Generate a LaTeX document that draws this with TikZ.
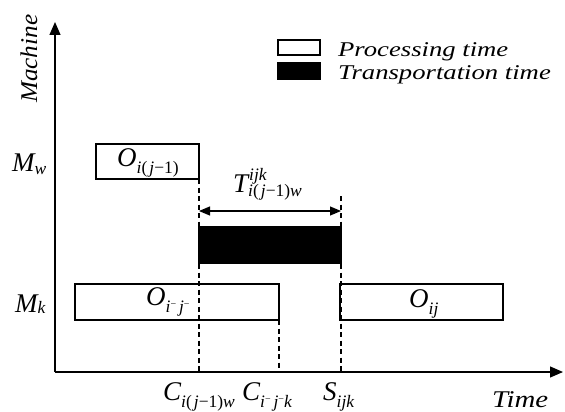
\documentclass[tikz,border=0pt]{standalone}
\usepackage{fontspec}
\setmainfont{Liberation Serif}
\usetikzlibrary{arrows.meta}
\newcommand\hsc[2]{\scalebox{#1}[1]{#2}}
\newcommand\sbx[2]{\raisebox{-#1}{\fontsize{17.5}{20}\selectfont #2}}
\newcommand\spx[2]{\raisebox{#1}{\fontsize{17.5}{20}\selectfont #2}}
\newcommand\mns{\raisebox{5pt}{\fontsize{10}{10}\selectfont\upshape −}}
\newcommand\jmo{\textup{(}\kern2pt j\textup{−1)}}
\begin{document}
\begin{tikzpicture}[x=1pt,y=-1pt,
  box/.style={draw,line width=1.2pt,inner sep=0pt,outer sep=0pt,anchor=north west},
  pbox/.style={box,fill=white},
  tbox/.style={box,fill=black},
  axis/.style={line width=1.2pt,-{Triangle[length=13pt,width=11pt]}},
  dline/.style={line width=1.2pt,dash pattern=on 5pt off 3.5pt},
  dim/.style={line width=1.2pt,{Triangle[length=11pt,width=9pt]}-{Triangle[length=11pt,width=9pt]}},
  mlab/.style={inner sep=0pt,anchor=base west,font=\fontsize{27}{30}\selectfont\itshape},
  tlab/.style={inner sep=0pt,anchor=base west,font=\fontsize{21}{25}\selectfont\itshape},
  alab/.style={inner sep=0pt,anchor=base west,font=\fontsize{24}{28}\selectfont\itshape}]
\useasboundingbox (0,0) rectangle (565,412);
% axes
\coordinate (org) at (55,372);
\coordinate (ytip) at (55,22);
\coordinate (xtip) at (563,372);
\draw[axis] (org) -- (ytip);
\draw[axis] (org) -- (xtip);
\node[alab,rotate=90] (machine) at (37,103) {\hsc{1.05}{Machine}};
\node[alab] (time) at (492,407) {\hsc{1.2}{Time}};
% legend
\node[pbox,minimum width=42pt,minimum height=15pt] (legp) at (278,40) {};
\node[tbox,minimum width=42pt,minimum height=16pt] (legt) at (278,63) {};
\node[tlab] (legptxt) at (338,57) {\hsc{1.27}{Processing time}};
\node[tlab] (legttxt) at (338,80) {\hsc{1.27}{Transportation time}};
% boxes
\node[pbox,minimum width=103pt,minimum height=35pt] (owj) at (96,144) {};
\node[pbox,minimum width=204pt,minimum height=36pt] (oijb) at (75,284) {};
\node[tbox,minimum width=142pt,minimum height=36pt] (tr) at (199,227) {};
\node[pbox,minimum width=163pt,minimum height=36pt] (oij) at (340,284) {};
% dashed guides
\coordinate (stop) at (341,196);
\draw[dline] (owj.south east) -- (owj.south east |- org);
\draw[dline] (oijb.south east) -- (oijb.south east |- org);
\draw[dline] (stop) -- (stop |- org);
% dimension arrow
\coordinate (da) at (199,211);
\coordinate (db) at (341,211);
\draw[dim] (da) -- (db);
% labels
\node[mlab] (mw) at (12,171) {M\sbx{3pt}{w}};
\node[mlab] (mk) at (15,312) {M\sbx{1pt}{k}};
\node[mlab] (lowj) at (117,166) {O\sbx{7pt}{i\jmo}};
\node[mlab] (loijb) at (146,305) {O\sbx{7pt}{i\mns\,j\mns}};
\node[mlab] (loij) at (409,307) {O\sbx{7pt}{ij}};
\node[mlab] (ltr) at (233,192) {T\makebox[0pt][l]{\kern1pt\spx{12pt}{ijk}}\sbx{4pt}{i\jmo w}};
\node[mlab] (lc1) at (163,400) {C\sbx{7pt}{i\jmo w}};
\node[mlab] (lc2) at (242,400) {C\sbx{7pt}{i\mns\,j\mns k}};
\node[mlab] (ls) at (323,400) {S\sbx{7pt}{ijk}};
\end{tikzpicture}
\end{document}
